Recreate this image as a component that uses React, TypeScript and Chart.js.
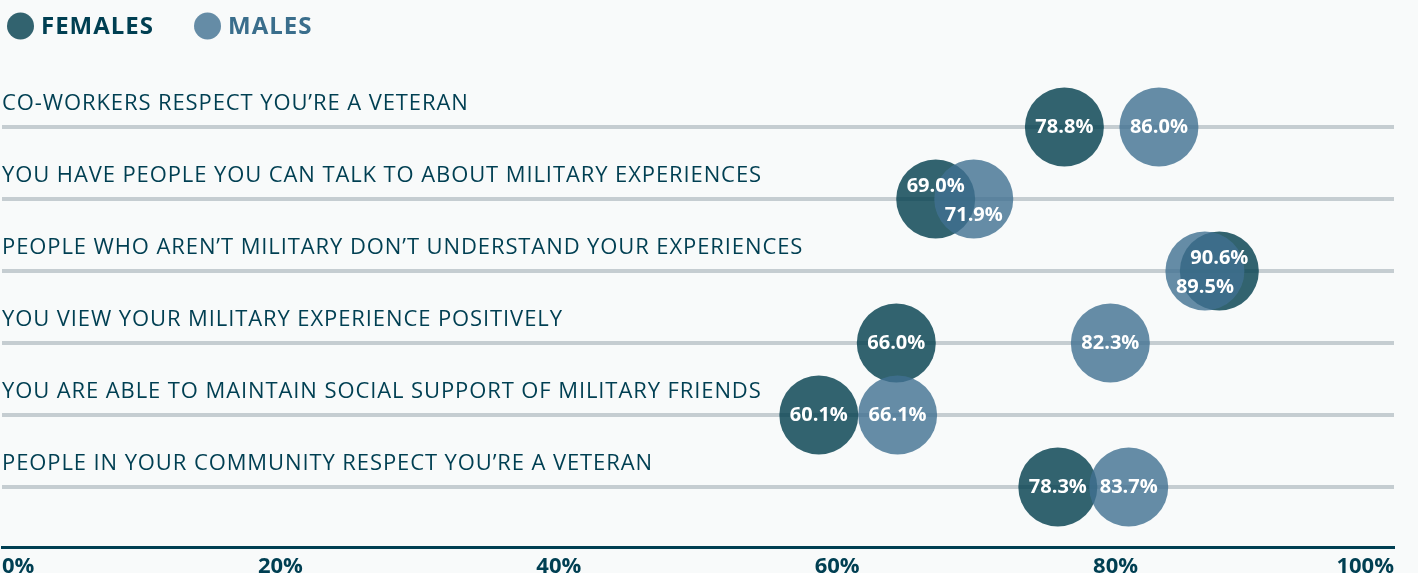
import { useEffect, useRef } from 'react';
import { Chart, registerables } from 'chart.js';

Chart.register(...registerables);

const categories = [
  'CO-WORKERS RESPECT YOU’RE A VETERAN',
  'YOU HAVE PEOPLE YOU CAN TALK TO ABOUT MILITARY EXPERIENCES',
  'PEOPLE WHO AREN’T MILITARY DON’T UNDERSTAND YOUR EXPERIENCES',
  'YOU VIEW YOUR MILITARY EXPERIENCE POSITIVELY',
  'YOU ARE ABLE TO MAINTAIN SOCIAL SUPPORT OF MILITARY FRIENDS',
  'PEOPLE IN YOUR COMMUNITY RESPECT YOU’RE A VETERAN',
];
const seriesNames = ['FEMALES', 'MALES'];
const femalesValues = [78.8, 69.0, 90.6, 66.0, 60.1, 78.3];
const malesValues = [86.0, 71.9, 89.5, 82.3, 66.1, 83.7];
const tickValues = [0, 20, 40, 60, 80, 100];
const tickLabels = ['0%', '20%', '40%', '60%', '80%', '100%'];

const FONT = "'Open Sans', sans-serif";
const DARK = '#003f52';
const FEMALE_COLOR = 'rgba(0,61,76,0.8)';
const MALE_COLOR = 'rgba(64,112,145,0.8)';
const LEGEND_TEXT = [DARK, '#3a6e8c'];
const GRID = '#c5cdd1';
const BG = '#f8fafa';
const W = 1418;
const H = 573;

const fmt = (v: number) => v.toFixed(1) + '%';

const rowLabelsPlugin = {
  id: 'rowLabels',
  beforeDatasetsDraw(chart: any) {
    const { ctx, chartArea } = chart;
    const yScale = chart.scales.y;
    ctx.save();
    ctx.font = `500 22px ${FONT}`;
    (ctx as any).letterSpacing = '0.9px';
    ctx.fillStyle = DARK;
    ctx.textAlign = 'left';
    ctx.textBaseline = 'alphabetic';
    categories.forEach((c, i) => {
      ctx.fillText(c, chartArea.left, yScale.getPixelForValue(i) - 17);
    });
    ctx.restore();
  },
};

const valueLabelsPlugin = {
  id: 'valueLabels',
  afterDatasetsDraw(chart: any) {
    const { ctx } = chart;
    const fm = chart.getDatasetMeta(0);
    const mm = chart.getDatasetMeta(1);
    ctx.save();
    ctx.font = `bold 20px ${FONT}`;
    ctx.fillStyle = '#ffffff';
    ctx.textAlign = 'center';
    ctx.textBaseline = 'middle';
    categories.forEach((_, i) => {
      const f = fm.data[i];
      const m = mm.data[i];
      const close = Math.abs(f.x - m.x) < 55;
      ctx.fillText(fmt(femalesValues[i]), f.x, f.y + (close ? -13 : 0));
      ctx.fillText(fmt(malesValues[i]), m.x, m.y + (close ? 16 : 0));
    });
    ctx.restore();
  },
};

const legendPlugin = {
  id: 'customLegend',
  afterDraw(chart: any) {
    const { ctx } = chart;
    ctx.save();
    let x = 7;
    const cy = 26;
    const r = 13.5;
    chart.data.datasets.forEach((ds: any, i: number) => {
      ctx.fillStyle = ds.backgroundColor;
      ctx.beginPath();
      ctx.arc(x + r, cy, r, 0, Math.PI * 2);
      ctx.fill();
      ctx.font = `bold 24px ${FONT}`;
      (ctx as any).letterSpacing = '1px';
      ctx.fillStyle = LEGEND_TEXT[i];
      ctx.textAlign = 'left';
      ctx.textBaseline = 'middle';
      ctx.fillText(ds.label, x + 34, cy + 1);
      x += 34 + ctx.measureText(ds.label).width + 40;
    });
    ctx.restore();
  },
};

export default function App() {
  const ref = useRef<HTMLCanvasElement | null>(null);

  useEffect(() => {
    if (!ref.current) return;
    const chart = new Chart(ref.current, {
      type: 'scatter',
      data: {
        datasets: [
          {
            label: seriesNames[0],
            data: femalesValues.map((v, i) => ({ x: v, y: i })),
            xAxisID: 'x',
            yAxisID: 'y',
            backgroundColor: FEMALE_COLOR,
            borderWidth: 0,
            pointRadius: 39.5,
            pointHoverRadius: 39.5,
            showLine: false,
            clip: false,
            order: 1,
          },
          {
            label: seriesNames[1],
            data: malesValues.map((v, i) => ({ x: v, y: i })),
            xAxisID: 'x',
            yAxisID: 'y',
            backgroundColor: MALE_COLOR,
            borderWidth: 0,
            pointRadius: 39.5,
            pointHoverRadius: 39.5,
            showLine: false,
            clip: false,
            order: 0,
          },
        ],
      } as any,
      options: {
        responsive: false,
        animation: false,
        events: [],
        layout: { autoPadding: false, padding: { top: 47, left: 2, right: 24, bottom: 0 } },
        plugins: {
          legend: { display: false },
          tooltip: { enabled: false },
        },
        scales: {
          x: {
            type: 'linear',
            min: -2.1,
            max: 103.9,
            display: false,
          },
          x2: {
            type: 'linear',
            position: 'bottom',
            min: 0,
            max: 100,
            afterBuildTicks: (s: any) => {
              s.ticks = tickValues.map((v) => ({ value: v }));
            },
            afterFit: (s: any) => {
              s.height = 26;
              s.paddingLeft = 0;
              s.paddingRight = 0;
              s.paddingTop = 0;
              s.paddingBottom = 0;
            },
            grid: { display: false, drawTicks: false },
            border: { display: true, color: DARK, width: 3 },
            ticks: {
              align: 'inner',
              padding: 9,
              color: DARK,
              autoSkip: false,
              maxRotation: 0,
              font: { family: FONT, size: 22, weight: 'bold', lineHeight: 1 },
              callback: (v: any) => tickLabels[tickValues.indexOf(Number(v))],
            },
          },
          y: {
            type: 'linear',
            reverse: true,
            min: -1.111,
            max: 5.833,
            afterBuildTicks: (s: any) => {
              s.ticks = categories.map((_, i) => ({ value: i }));
            },
            afterFit: (s: any) => {
              s.width = 0;
              s.paddingTop = 0;
              s.paddingBottom = 0;
              s.paddingLeft = 0;
              s.paddingRight = 0;
            },
            grid: { color: GRID, lineWidth: 4, drawTicks: false },
            border: { display: false },
            ticks: { display: false },
          },
        },
      } as any,
      plugins: [rowLabelsPlugin, valueLabelsPlugin, legendPlugin],
    });
    return () => chart.destroy();
  }, []);

  return (
    <div
      style={{
        position: 'fixed',
        left: 0,
        top: 0,
        width: W,
        height: H,
        background: BG,
        overflow: 'hidden',
      }}
    >
      <canvas ref={ref} width={W} height={H} style={{ display: 'block' }} />
    </div>
  );
}
